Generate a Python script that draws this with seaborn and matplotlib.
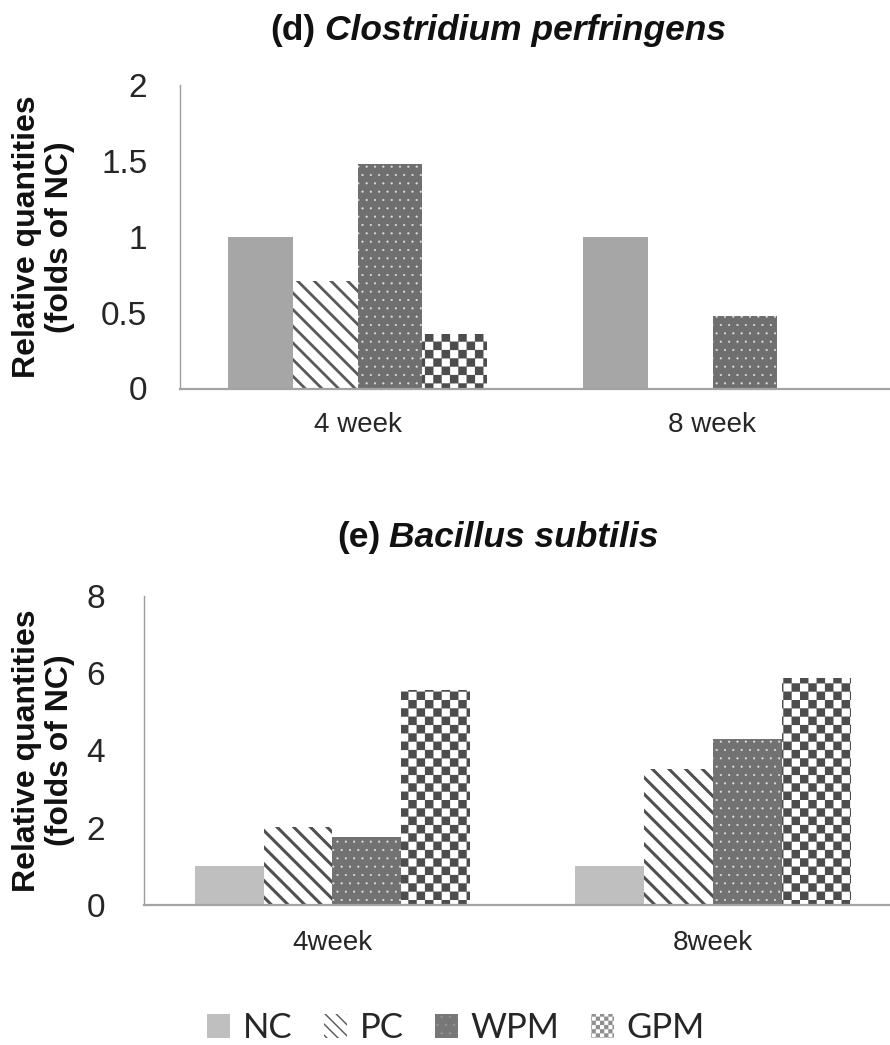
import warnings
warnings.filterwarnings("ignore")

import numpy as np
import pandas as pd
import matplotlib
matplotlib.use("Agg")
import matplotlib.pyplot as plt
import matplotlib.hatch as mhatch
import matplotlib.patches as mpatches
from matplotlib.path import Path
import seaborn as sns

# ---------------- data ----------------
groups = ["NC", "PC", "WPM", "GPM"]

weeks_d = ["4 week", "8 week"]
cp_4week = [1.0, 0.71, 1.48, 0.36]
cp_8week = [1.0, 0.0, 0.48, 0.0]
yticks_d = [0, 0.5, 1, 1.5, 2]
ytick_labels_d = ["0", "0.5", "1", "1.5", "2"]

weeks_e = ["4week", "8week"]
bs_4week = [1.0, 2.03, 1.75, 5.57]
bs_8week = [1.0, 3.52, 4.30, 5.88]
yticks_e = [0, 2, 4, 6, 8]
ytick_labels_e = ["0", "2", "4", "6", "8"]

ylabel_text = "Relative quantities\n(folds of NC)"
title_d = ("(d)", "Clostridium perfringens")
title_e = ("(e)", "Bacillus subtilis")

# ---------------- custom checkerboard hatch ----------------
class CheckerHatch(mhatch.HatchPatternBase):
    def __init__(self, hatch, density):
        self.n = int(hatch.count("c") * density)
        self.num_vertices = 2 * self.n * self.n * 5

    def set_vertices_and_codes(self, vertices, codes):
        n = self.n
        s = 1.0 / n
        h = s / 2.0
        sq = np.array([[0, 0], [h, 0], [h, h], [0, h], [0, 0]], float)
        parts = []
        for i in range(n):
            for j in range(n):
                parts.append(sq + [i * s, j * s])
                parts.append(sq + [i * s + h, j * s + h])
        vertices[:] = np.concatenate(parts)
        codes[:] = np.tile([Path.MOVETO, Path.LINETO, Path.LINETO,
                            Path.LINETO, Path.CLOSEPOLY], 2 * n * n)


mhatch._hatch_types.append(CheckerHatch)

# ---------------- style ----------------
sns.set_theme(style="white")
FONT = ["Liberation Sans", "DejaVu Sans"]
plt.rcParams["font.family"] = FONT

W, H = 890, 1045

# per group: face, hatch, hatch colour, hatch linewidth
style_d = {
    "NC": ("#a6a6a6", None, "#a6a6a6", 0.5),
    "PC": ("#ffffff", "\\\\", "#595959", 2.0),
    "WPM": ("#6f6f6f", "..", "#e2e2e2", 0.3),
    "GPM": ("#ffffff", "c", "#4d4d4d", 0.15),
}
style_e = {
    "NC": ("#bfbfbf", None, "#bfbfbf", 0.5),
    "PC": ("#ffffff", "\\\\", "#505050", 2.2),
    "WPM": ("#727272", "..", "#e2e2e2", 0.3),
    "GPM": ("#ffffff", "c", "#4d4d4d", 0.15),
}


def set_hatch_lw(p, lw):
    if hasattr(p, "set_hatch_linewidth"):
        p.set_hatch_linewidth(lw)
    else:
        orig = p.draw

        def draw(renderer, _orig=orig, _lw=lw):
            with plt.rc_context({"hatch.linewidth": _lw}):
                _orig(renderer)
        p.draw = draw


def style_patch(p, st):
    face, hatch, hc, hlw = st
    p.set_facecolor(face)
    p.set_edgecolor(hc)
    p.set_linewidth(0)
    p.set_hatch(hatch)
    set_hatch_lw(p, hlw)


def panel(ax, weeks, v4, v8, styles, width, yticks, ylabels, ylim, xlim,
          ypad, xpad, label_x):
    df = pd.DataFrame({
        "week": np.repeat(weeks, len(groups)),
        "group": groups * 2,
        "value": list(v4) + list(v8),
    })
    pal = {g: styles[g][0] for g in groups}
    sns.barplot(data=df, x="week", y="value", hue="group", order=weeks,
                hue_order=groups, palette=pal, width=width, gap=0,
                errorbar=None, saturation=1, legend=False, ax=ax)
    for cont, g in zip(ax.containers, groups):
        for p in cont:
            style_patch(p, styles[g])
    ax.set_ylim(*ylim)
    ax.set_xlim(*xlim)
    ax.set_yticks(yticks)
    ax.set_yticklabels(ylabels)
    ax.set_xlabel("")
    ax.tick_params(axis="both", length=0, colors="#262626")
    ax.tick_params(axis="y", pad=ypad, labelsize=24)
    ax.tick_params(axis="x", pad=xpad, labelsize=20)
    for s in ("top", "right"):
        ax.spines[s].set_visible(False)
    ax.spines["left"].set_color("#9c9c9c")
    ax.spines["left"].set_linewidth(1.0)
    ax.spines["bottom"].set_color("#a3a3a3")
    ax.spines["bottom"].set_linewidth(1.6)
    ax.set_ylabel(ylabel_text, fontsize=23, fontweight="bold",
                  color="#111111", linespacing=1.15)
    ax.yaxis.set_label_coords(label_x, 0.5)
    ax.yaxis.label.set_va("center")
    ax.yaxis.label.set_ha("center")
    ax.set_facecolor("white")
    ax.grid(False)


fig = plt.figure(figsize=(W / 100, H / 100), dpi=100)
fig.patch.set_facecolor("white")

# top panel: y=0 at 388.5 px, y=2 at 85 px; x axis from 180 to 890 px
ax1 = fig.add_axes([180 / W, (H - 388.5) / H, 710 / W, 303.5 / H])
panel(ax1, weeks_d, cp_4week, cp_8week, style_d, 0.73, yticks_d,
      ytick_labels_d, (0, 2), (-0.5, 1.5), 23.5, 17,
      (43.5 - 180) / 710)

# bottom panel: y=0 at 905 px, y=8 at 596 px; x axis from 144 to 890 px
ax2 = fig.add_axes([144 / W, (H - 905) / H, 746 / W, 309 / H])
panel(ax2, weeks_e, bs_4week, bs_8week, style_e, 0.723, yticks_e,
      ytick_labels_e, (0, 8), (-0.495, 1.465), 28, 18,
      (43.5 - 144) / 746)

# ---------------- titles ----------------
def two_part_title(parts, cx_px, base_px, size=25.5, gap=9):
    t1 = fig.text(0, 1 - base_px / H, parts[0], fontsize=size,
                  fontweight="bold", ha="left", va="baseline",
                  color="#111111", family=FONT)
    t2 = fig.text(0, 1 - base_px / H, parts[1], fontsize=size,
                  fontweight="bold", fontstyle="italic", ha="left",
                  va="baseline", color="#111111", family=FONT)
    fig.canvas.draw()
    r = fig.canvas.get_renderer()
    b1 = t1.get_window_extent(r)
    b2 = t2.get_window_extent(r)
    total = b1.width + gap + b2.width
    x0 = cx_px - total / 2
    t1.set_x(x0 / W)
    t2.set_x((x0 + b1.width + gap) / W)


two_part_title(title_d, 498, 40)
two_part_title(title_e, 498, 547)

# ---------------- legend ----------------
leg_styles = {
    "NC": ("#bfbfbf", None, "#bfbfbf", 0.5),
    "PC": ("#ffffff", "\\\\\\", "#555555", 1.0),
    "WPM": ("#777777", "..", "#999999", 0.3),
    "GPM": ("#ffffff", "cc", "#8f8f8f", 0.1),
}
handles = []
for g in groups:
    face, hatch, hc, hlw = leg_styles[g]
    handles.append(mpatches.Patch(facecolor=face, edgecolor=hc, hatch=hatch,
                                  linewidth=0, label=g))
leg = fig.legend(handles=handles, labels=groups, loc="center",
                 bbox_to_anchor=(456 / W, (H - 1028) / H), ncol=4,
                 frameon=False, prop={"family": "Lato", "size": 25},
                 handlelength=0.66, handleheight=0.66, handletextpad=0.37,
                 columnspacing=0.9, borderpad=0, borderaxespad=0)
for t in leg.get_texts():
    t.set_color("#262626")
for p, g in zip(leg.get_patches(), groups):
    set_hatch_lw(p, leg_styles[g][3])

fig.savefig("out.png", dpi=100, facecolor="white")
